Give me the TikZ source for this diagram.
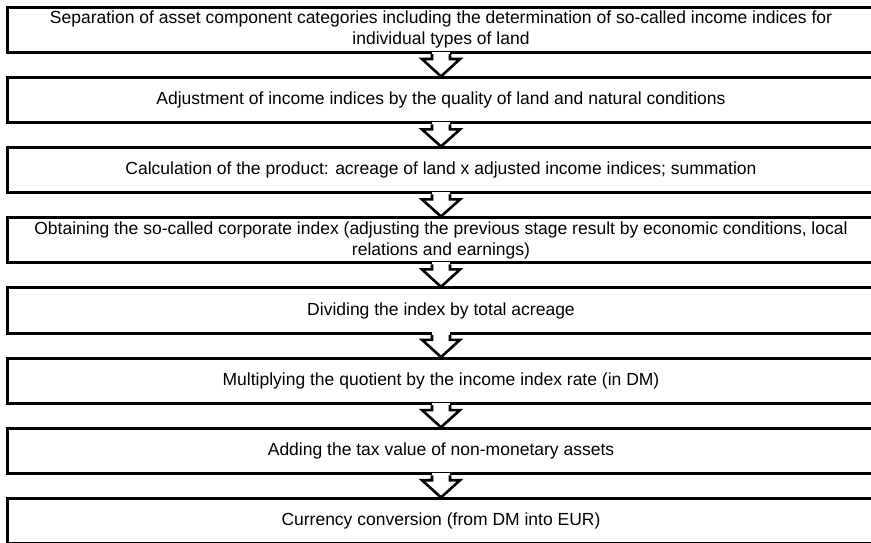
\documentclass[tikz,border=0pt]{standalone}
\usepackage{fontspec}
\setmainfont{Liberation Sans}
\usetikzlibrary{calc}

\tikzset{
  stagebox/.style={draw=black,line width=3bp,fill=white,minimum width=866bp,
    minimum height=45.5bp,inner sep=0pt,align=center,
    font=\fontsize{17.5bp}{21bp}\selectfont},
  stagearrow/.style={draw=black,line width=2.6bp,line join=miter,fill=white}
}

\begin{document}
\begin{tikzpicture}[x=1bp,y=-1bp]
\useasboundingbox (0,0) rectangle (871,543);
\clip (0,0) rectangle (871,543);

\node[stagebox] (s1) at (441,29.8) {Separation of asset component categories including the determination of so-called income indices for\\individual types of land};
\node[stagebox] (s2) at (441,100.2) {Adjustment of income indices by the quality of land and natural conditions};
\node[stagebox] (s3) at (441,170.2) {Calculation of the product: acreage of land x adjusted income indices; summation};
\node[stagebox] (s4) at (441,240.2) {Obtaining the so-called corporate index (adjusting the previous stage result by economic conditions, local\\relations and earnings)};
\node[stagebox] (s5) at (441,310.6) {Dividing the index by total acreage};
\node[stagebox] (s6) at (441,380.8) {Multiplying the quotient by the income index rate (in DM)};
\node[stagebox] (s7) at (441,451) {Adding the tax value of non-monetary assets};
\node[stagebox] (s8) at (441,521.2) {Currency conversion (from DM into EUR)};

% block arrows between the stages
\foreach \a/\b in {s1/s2,s2/s3,s3/s4,s4/s5,s5/s6,s6/s7,s7/s8}{
  \fill[white] ($(\a.south)+(-9,-2.5)$) -- ($(\a.south)+(9,-2.5)$)
    -- ($(\a.south)+(9,5)$) -- ($(\a.south)+(-9,5)$) -- cycle;
  \draw[stagearrow] ($(\a.south)+(-9,0)$) -- ++(0,5) -- ++(-10,0)
    -- ($(\b.north)+(0,0.5)$) -- ($(\a.south)+(19,5)$) -- ++(-10,0) -- ++(0,-5);
}

\end{tikzpicture}
\end{document}
